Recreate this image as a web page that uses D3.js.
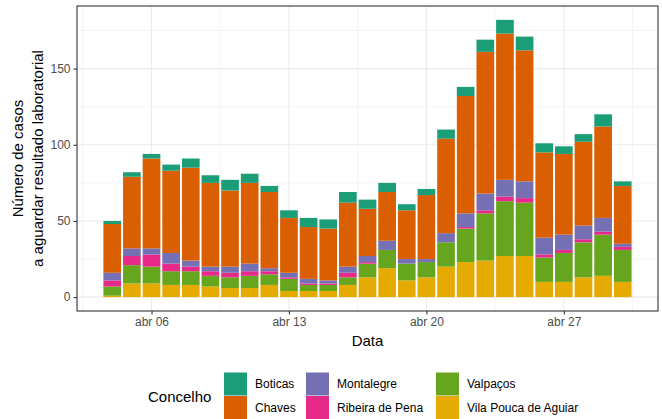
<!DOCTYPE html>
<html>
<head>
<meta charset="utf-8">
<script src="https://cdn.jsdelivr.net/npm/d3@7"></script>
<style>
  body { margin: 0; background: #fff; }
  svg { display: block; font-family: "Liberation Sans", Arial, Helvetica, sans-serif; }
</style>
</head>
<body>
<svg id="chart"></svg>
<script>
const dates = [
  "2020-04-04", "2020-04-05", "2020-04-06", "2020-04-07", "2020-04-08", "2020-04-09",
  "2020-04-10", "2020-04-11", "2020-04-12", "2020-04-13", "2020-04-14", "2020-04-15",
  "2020-04-16", "2020-04-17", "2020-04-18", "2020-04-19", "2020-04-20", "2020-04-21",
  "2020-04-22", "2020-04-23", "2020-04-24", "2020-04-25", "2020-04-26", "2020-04-27",
  "2020-04-28", "2020-04-29", "2020-04-30"
];

// legend order (top of stack first)
const concelhos = ["Boticas", "Chaves", "Montalegre", "Ribeira de Pena", "Valpaços", "Vila Pouca de Aguiar"];

const boticas    = [2, 3, 3, 4, 6, 5, 7, 6, 4, 5, 6, 6, 7, 6, 6, 4, 4, 6, 6, 8, 9, 9, 6, 5, 5, 8, 3];
const chaves     = [32, 47, 59, 54, 61, 55, 50, 53, 50, 36, 34, 34, 42, 31, 32, 32, 42, 62, 77, 93, 96, 86, 56, 53, 55, 60, 38];
const montalegre = [5, 5, 4, 7, 4, 3, 4, 5, 2, 3, 3, 2, 4, 4, 6, 3, 2, 6, 9, 11, 11, 11, 11, 10, 9, 9, 2];
const ribeira    = [4, 6, 8, 5, 3, 3, 3, 3, 2, 1, 1, 1, 3, 1, 0, 0, 0, 0, 1, 2, 3, 3, 2, 2, 2, 2, 2];
const valpacos   = [6, 12, 11, 9, 9, 7, 7, 8, 7, 8, 4, 4, 5, 9, 12, 11, 10, 16, 22, 31, 36, 35, 16, 19, 23, 27, 21];
const vilaPouca  = [1, 9, 9, 8, 8, 7, 6, 6, 8, 4, 4, 4, 8, 13, 19, 11, 13, 20, 23, 24, 27, 27, 10, 10, 13, 14, 10];

const tickDates  = ["2020-04-06", "2020-04-13", "2020-04-20", "2020-04-27"];
const tickLabels = ["abr 06", "abr 13", "abr 20", "abr 27"];
const yTicks = [0, 50, 100, 150];

const colors = {
  "Boticas": "#1B9E77",
  "Chaves": "#D95F02",
  "Montalegre": "#7570B3",
  "Ribeira de Pena": "#E7298A",
  "Valpaços": "#66A61E",
  "Vila Pouca de Aguiar": "#E6AB02"
};

const seriesValues = {
  "Boticas": boticas,
  "Chaves": chaves,
  "Montalegre": montalegre,
  "Ribeira de Pena": ribeira,
  "Valpaços": valpacos,
  "Vila Pouca de Aguiar": vilaPouca
};

const parseDate = d3.utcParse("%Y-%m-%d");
const DAY = 864e5;

const rows = dates.map((d, i) => {
  const row = { date: parseDate(d) };
  concelhos.forEach(c => { row[c] = seriesValues[c][i]; });
  return row;
});

const width = 662;
const height = 419;
const panel = { left: 77, right: 658, top: 6, bottom: 311 };

const svg = d3.select("#chart")
  .attr("width", width)
  .attr("height", height);

// x domain like ggplot: bars of 0.9 day, 5% expansion
const first = d3.min(rows, d => d.date).getTime() - 0.45 * DAY;
const last = d3.max(rows, d => d.date).getTime() + 0.45 * DAY;
const xPad = (last - first) * 0.05;

const xScale = d3.scaleUtc()
  .domain([new Date(first - xPad), new Date(last + xPad)])
  .range([panel.left, panel.right]);

const stack = d3.stack()
  .keys(concelhos.slice().reverse())
  .order(d3.stackOrderNone)
  .offset(d3.stackOffsetNone);

const stackedData = stack(rows);
const maxTotal = d3.max(rows, r => d3.sum(concelhos, c => r[c]));

const yScale = d3.scaleLinear()
  .domain([-0.05 * maxTotal, 1.05 * maxTotal])
  .range([panel.bottom, panel.top]);

// grid
const grid = svg.append("g").attr("class", "grid");

const minorY = yTicks.slice(0, -1).map((t, i) => (t + yTicks[i + 1]) / 2).concat([175]);
grid.selectAll(".minor-y")
  .data(minorY)
  .enter()
  .append("line")
  .attr("x1", panel.left)
  .attr("x2", panel.right)
  .attr("y1", d => yScale(d))
  .attr("y2", d => yScale(d))
  .attr("stroke", "#EBEBEB")
  .attr("stroke-width", 0.55);

const tickTimes = tickDates.map(parseDate);
const minorX = [new Date(tickTimes[0].getTime() - 3.5 * DAY)]
  .concat(tickTimes.map(t => new Date(t.getTime() + 3.5 * DAY)));
grid.selectAll(".minor-x")
  .data(minorX)
  .enter()
  .append("line")
  .attr("x1", d => xScale(d))
  .attr("x2", d => xScale(d))
  .attr("y1", panel.top)
  .attr("y2", panel.bottom)
  .attr("stroke", "#EBEBEB")
  .attr("stroke-width", 0.55);

grid.selectAll(".major-y")
  .data(yTicks)
  .enter()
  .append("line")
  .attr("x1", panel.left)
  .attr("x2", panel.right)
  .attr("y1", d => yScale(d))
  .attr("y2", d => yScale(d))
  .attr("stroke", "#EBEBEB")
  .attr("stroke-width", 1.1);

grid.selectAll(".major-x")
  .data(tickTimes)
  .enter()
  .append("line")
  .attr("x1", d => xScale(d))
  .attr("x2", d => xScale(d))
  .attr("y1", panel.top)
  .attr("y2", panel.bottom)
  .attr("stroke", "#EBEBEB")
  .attr("stroke-width", 1.1);

// bars
const barWidth = xScale(new Date(0.9 * DAY)) - xScale(new Date(0));

svg.append("g")
  .selectAll("g")
  .data(stackedData)
  .enter()
  .append("g")
  .attr("fill", d => colors[d.key])
  .selectAll("rect")
  .data(d => d)
  .enter()
  .append("rect")
  .attr("x", d => xScale(d.data.date) - barWidth / 2)
  .attr("width", barWidth)
  .attr("y", d => yScale(d[1]))
  .attr("height", d => yScale(d[0]) - yScale(d[1]));

// panel border
svg.append("rect")
  .attr("x", panel.left)
  .attr("y", panel.top)
  .attr("width", panel.right - panel.left)
  .attr("height", panel.bottom - panel.top)
  .attr("fill", "none")
  .attr("stroke", "#333333")
  .attr("stroke-width", 1.1);

// axes
const xAxis = d3.axisBottom(xScale)
  .tickValues(tickTimes)
  .tickFormat((d, i) => tickLabels[i])
  .tickSize(3.5)
  .tickPadding(3);

const xg = svg.append("g")
  .attr("transform", `translate(0,${panel.bottom})`)
  .call(xAxis);
xg.select(".domain").remove();
xg.selectAll("line").attr("stroke", "#333333").attr("stroke-width", 1.1);
xg.selectAll("text")
  .attr("fill", "#4D4D4D")
  .style("font-size", "12px")
  .style("font-family", "Liberation Sans, Arial, sans-serif");

const yAxis = d3.axisLeft(yScale)
  .tickValues(yTicks)
  .tickSize(3.5)
  .tickPadding(3);

const yg = svg.append("g")
  .attr("transform", `translate(${panel.left},0)`)
  .call(yAxis);
yg.select(".domain").remove();
yg.selectAll("line").attr("stroke", "#333333").attr("stroke-width", 1.1);
yg.selectAll("text")
  .attr("fill", "#4D4D4D")
  .style("font-size", "12px")
  .style("font-family", "Liberation Sans, Arial, sans-serif");

// axis titles
svg.append("text")
  .attr("x", (panel.left + panel.right) / 2)
  .attr("y", 346)
  .attr("text-anchor", "middle")
  .style("font-size", "15px")
  .text("Data");

const midY = (panel.top + panel.bottom) / 2;
svg.append("text")
  .attr("transform", `translate(23,${midY}) rotate(-90)`)
  .attr("text-anchor", "middle")
  .style("font-size", "15px")
  .text("Número de casos");

svg.append("text")
  .attr("transform", `translate(43,${midY}) rotate(-90)`)
  .attr("text-anchor", "middle")
  .style("font-size", "15px")
  .text("a aguardar resultado laboratorial");

// legend
const legend = svg.append("g").attr("class", "legend");

legend.append("text")
  .attr("x", 148)
  .attr("y", 397)
  .attr("dy", "0.35em")
  .style("font-size", "15px")
  .text("Concelho");

const colX = [224, 306, 436];
const rowY = [372.5, 396];
const keySize = 23;

const items = legend.selectAll(".legend-item")
  .data(concelhos)
  .enter()
  .append("g")
  .attr("class", "legend-item")
  .attr("transform", (d, i) => `translate(${colX[Math.floor(i / 2)]},${rowY[i % 2]})`);

items.append("rect")
  .attr("width", keySize)
  .attr("height", keySize)
  .attr("fill", d => colors[d]);

items.append("text")
  .attr("x", keySize + 8)
  .attr("y", keySize / 2)
  .attr("dy", "0.35em")
  .style("font-size", "12px")
  .text(d => d);
</script>
</body>
</html>
